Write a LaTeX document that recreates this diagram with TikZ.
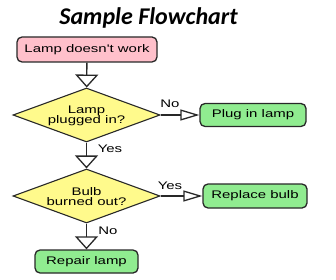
\documentclass[tikz,border=0pt]{standalone}
\usepackage{fontspec}
\usetikzlibrary{shapes.geometric,arrows.meta}
\newfontfamily\bodyfont[FakeStretch=1.36]{Liberation Sans}
\newfontfamily\titlefont{Carlito}
\definecolor{pinkfill}{RGB}{255,192,203}
\definecolor{yellowfill}{RGB}{255,250,140}
\definecolor{greenfill}{RGB}{144,236,144}
\definecolor{edge}{RGB}{40,40,40}
\begin{document}
\begin{tikzpicture}[x=1pt,y=-1pt,
  font=\bodyfont\fontsize{11}{10.5}\selectfont,
  boxbase/.style={draw=edge, line width=1.3pt, rounded corners=5pt, inner sep=0pt, align=center},
  pinkbox/.style={boxbase, fill=pinkfill},
  greenbox/.style={boxbase, fill=greenfill},
  decision/.style={diamond, draw=edge, line width=1.1pt, fill=yellowfill, inner sep=0pt, aspect=2.72, minimum width=147pt, minimum height=54pt, align=center},
  link/.style={draw=edge, line width=1.3pt},
  downarrow/.style={link, -{Triangle[open, length=13pt, width=23pt, fill=white]}},
  sidearrow/.style={link, -{Triangle[open, length=19pt, width=11pt, fill=white]}},
  lbl/.style={inner sep=0pt}
]
\useasboundingbox (0,0) rectangle (336,280);
\node[anchor=base, font=\titlefont\bfseries\itshape\fontsize{24}{24}\selectfont] (title) at (148.5,25) {Sample Flowchart};
\node[pinkbox, minimum width=140pt, minimum height=25pt] (start) at (87,49.5) {Lamp doesn't work};
\node[decision] (q1) at (86.5,115) {\rule{0pt}{9pt}Lamp\\plugged in?};
\node[greenbox, minimum width=106pt, minimum height=23pt] (plug) at (253,115) {Plug in lamp};
\node[decision] (q2) at (86.5,196) {\rule{0pt}{9pt}Bulb\\burned out?};
\node[greenbox, minimum width=104pt, minimum height=24pt] (replace) at (255,196) {Replace bulb};
\node[greenbox, minimum width=103pt, minimum height=23pt] (repair) at (86.5,261.5) {Repair lamp};
\draw[downarrow] (start) -- (q1);
\draw[sidearrow] (q1.east) -- (plug.west);
\draw[downarrow] (q1.south) -- (q2.north);
\draw[sidearrow] (q2.east) -- (replace.west);
\draw[downarrow] (q2.south) -- (repair.north);
\node[lbl] (no1) at (170,104) {No};
\node[lbl] (yes1) at (110,149) {Yes};
\node[lbl] (yes2) at (170,186) {Yes};
\node[lbl] (no2) at (108,231) {No};
\end{tikzpicture}
\end{document}
